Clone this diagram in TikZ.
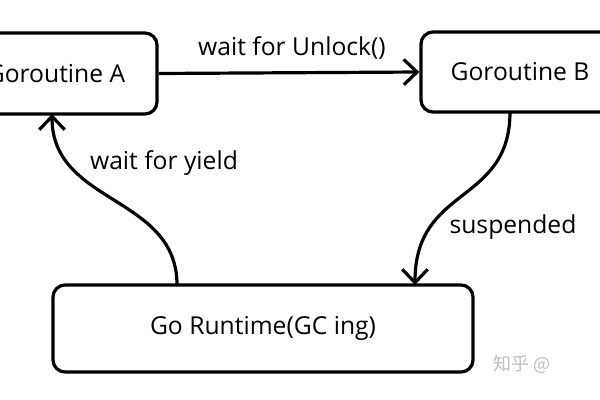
\documentclass[tikz,border=0pt]{standalone}
\usepackage{fontspec}
\setmainfont{Open Sans}
\newfontfamily\cjk{Noto Sans CJK SC}
\usetikzlibrary{arrows.meta,calc}
\begin{document}
\begin{tikzpicture}[x=0.75pt,y=-0.75pt,
  box/.style={draw, line width=2.4pt, rounded corners=9pt, inner sep=0pt, font=\fontsize{18.5}{22}\selectfont},
  conn/.style={line width=2.4pt, -{Straight Barb[length=10pt,width=19pt]}},
  lbl/.style={font=\fontsize{18.5}{22}\selectfont, inner sep=0pt}]
\clip (0,0) rectangle (600,400);
\fill[white] (0,0) rectangle (600,400);
\node[box, minimum width=151.5pt, minimum height=60.75pt] (A) at (56,73.5) {Goroutine A};
\node[box, minimum width=148.5pt, minimum height=60pt] (B) at (520,72) {Goroutine B};
\node[box, minimum width=315pt, minimum height=65.25pt] (R) at (263,328.5) {Go Runtime(GC ing)};
\coordinate (s1) at (510,112);
\coordinate (s2) at (415,285);
\coordinate (y1) at (177,285);
\coordinate (y2) at (52,114);
\draw[conn] (A.east) -- (B.west);
\draw[conn] (s1) .. controls (510,205) and (415,185) .. (s2);
\draw[conn] (y1) .. controls (177,195) and (52,205) .. (y2);
\node[lbl] (l1) at (292,48) {wait for Unlock()};
\node[lbl] (l2) at (513,227) {suspended};
\node[lbl] (l3) at (164,163) {wait for yield};
\node[font=\cjk\fontsize{13.5}{16}\selectfont, text=black!25, anchor=west, inner sep=0pt] (wm) at (493,364) {知乎 @};
\end{tikzpicture}
\end{document}
